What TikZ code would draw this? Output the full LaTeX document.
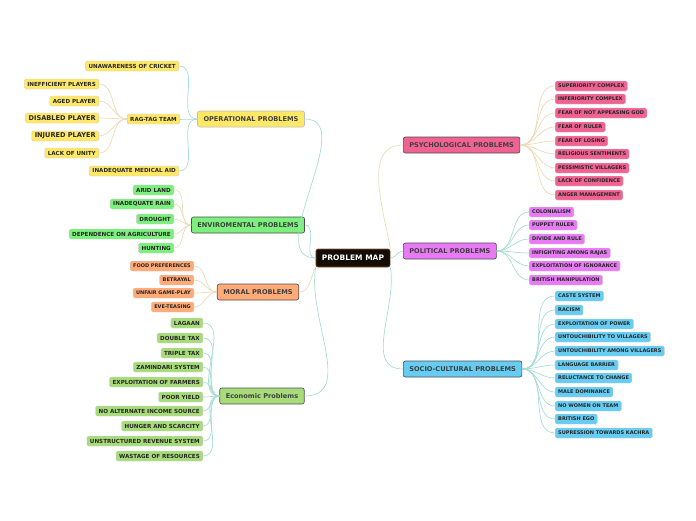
\documentclass[tikz,border=0pt]{standalone}
\usepackage{fontspec}
\setmainfont{DejaVu Sans}
\definecolor{cyel}{HTML}{FFE866}
\definecolor{cenv}{HTML}{7CF07C}
\definecolor{cmor}{HTML}{FFAA77}
\definecolor{ceco}{HTML}{A8DC7A}
\definecolor{cpsy}{HTML}{F06292}
\definecolor{cpol}{HTML}{E87BF5}
\definecolor{csoc}{HTML}{66CCF2}
\definecolor{lteal}{HTML}{A8DDD5}
\definecolor{lbeige}{HTML}{E8DDB8}
\tikzset{
  leaf/.style={rounded corners=1.5pt, inner xsep=3pt, inner ysep=0pt, minimum height=10pt,
    font=\fontsize{5.6}{6}\selectfont\bfseries, text=black!85, draw=white!80!black, line width=0.4pt},
  topic/.style={rounded corners=2pt, minimum height=16pt, inner xsep=6pt,
    font=\fontsize{6.6}{7}\selectfont\bfseries, text=black!75, draw=black!70, line width=0.6pt},
  link/.style={line width=0.7pt}
}
\begin{document}
\begin{tikzpicture}[x=1pt,y=-1pt]
  \useasboundingbox (0,0) rectangle (696,520);
  \node[topic, fill=black!90!brown, text=white, draw=black!30!brown, minimum height=18pt, font=\fontsize{7.5}{8}\selectfont\bfseries] (pm) at (353,258) {PROBLEM MAP};
  % left side
  \node[topic, fill=cyel, draw=white!75!black] (op) at (251,119) {OPERATIONAL PROBLEMS};
  \node[topic, fill=cenv] (env) at (248,225) {ENVIROMENTAL PROBLEMS};
  \node[topic, fill=cmor] (mor) at (258,292) {MORAL PROBLEMS};
  \node[topic, fill=ceco] (eco) at (262,396) {Economic Problems};
  % right side
  \node[topic, fill=cpsy, anchor=west] (psy) at (403,145) {PSYCHOLOGICAL PROBLEMS};
  \node[topic, fill=cpol, anchor=west] (pol) at (403,251) {POLITICAL PROBLEMS};
  \node[topic, fill=csoc, anchor=west] (soc) at (403,369) {SOCIO-CULTURAL PROBLEMS};
  \draw[link, lteal] (pm.west) to[out=180,in=0] (op.east);
  \draw[link, lteal] (pm.west) to[out=180,in=0] (env.east);
  \draw[link, lbeige] (pm.south west) to[out=240,in=0] (mor.east);
  \draw[link, lteal] (pm.south west) to[out=260,in=0] (eco.east);
  \draw[link, lbeige] (pm.north east) to[out=100,in=180] (psy.west);
  \draw[link, lteal] (pm.east) to[out=0,in=180] (pol.west);
  \draw[link, lteal] (pm.south east) to[out=280,in=180] (soc.west);
  % operational
  \node[leaf, fill=cyel, anchor=east] (op1) at (179,66) {UNAWARENESS OF CRICKET};
  \node[leaf, fill=cyel, anchor=east] (rt) at (180,119) {RAG-TAG TEAM};
  \node[leaf, fill=cyel, anchor=east] (op3) at (179,171) {INADEQUATE MEDICAL AID};
  \foreach \n in {op1,rt,op3}
    \draw[link, lteal] (op.west) to[out=180,in=0] (\n.east);
  \foreach \t/\y/\s [count=\i] in {INEFFICIENT PLAYERS/84/5.6, AGED PLAYER/101/5.6,
      DISABLED PLAYER/118/6.6, INJURED PLAYER/136/6.6, LACK OF UNITY/153/5.6} {
    \node[leaf, fill=cyel, anchor=east, font=\fontsize{\s}{7}\selectfont\bfseries] (rt\i) at (99,\y) {\t};
    \draw[link, lbeige] (rt.west) to[out=180,in=0] (rt\i.east);
  }
  % enviromental
  \foreach \t/\y [count=\i] in {ARID LAND/190, INADEQUATE RAIN/204, DROUGHT/219,
      DEPENDENCE ON AGRICULTURE/234, HUNTING/248} {
    \node[leaf, fill=cenv, anchor=east] (env\i) at (174,\y) {\t};
    \draw[link, lbeige] (env.west) to[out=180,in=0] (env\i.east);
  }
  % moral
  \foreach \t/\y [count=\i] in {FOOD PREFERENCES/266, BETRAYAL/280, UNFAIR GAME-PLAY/293, EVE-TEASING/307} {
    \node[leaf, fill=cmor, anchor=east, font=\fontsize{5}{6}\selectfont\bfseries] (mor\i) at (194,\y) {\t};
    \draw[link, lbeige] (mor.west) to[out=180,in=0] (mor\i.east);
  }
  % economic
  \foreach \t/\y [count=\i] in {LAGAAN/323, DOUBLE TAX/338, TRIPLE TAX/353, ZAMINDARI SYSTEM/367,
      EXPLOITATION OF FARMERS/382, POOR YIELD/397, NO ALTERNATE INCOME SOURCE/411,
      HUNGER AND SCARCITY/426, UNSTRUCTURED REVENUE SYSTEM/441, WASTAGE OF RESOURCES/456} {
    \node[leaf, fill=ceco, anchor=east] (eco\i) at (203,\y) {\t};
    \draw[link, lteal] (eco.west) to[out=180,in=0] (eco\i.east);
  }
  % psychological
  \foreach \t/\y [count=\i] in {SUPERIORITY COMPLEX/86, INFERIORITY COMPLEX/99, FEAR OF NOT APPEASING GOD/113,
      FEAR OF RULER/127, FEAR OF LOSING/141, RELIGIOUS SENTIMENTS/154, PESSIMISTIC VILLAGERS/168,
      LACK OF CONFIDENCE/181, ANGER MANAGEMENT/195} {
    \node[leaf, fill=cpsy, anchor=west, font=\fontsize{5}{6}\selectfont\bfseries] (psy\i) at (555,\y) {\t};
    \draw[link, lbeige] (psy.east) to[out=0,in=180] (psy\i.west);
  }
  % political
  \foreach \t/\y [count=\i] in {COLONIALISM/212, PUPPET RULER/225, DIVIDE AND RULE/239,
      INFIGHTING AMONG RAJAS/253, EXPLOITATION OF IGNORANCE/266, BRITISH MANIPULATION/280} {
    \node[leaf, fill=cpol, anchor=west, font=\fontsize{5}{6}\selectfont\bfseries] (pol\i) at (529,\y) {\t};
    \draw[link, lteal] (pol.east) to[out=0,in=180] (pol\i.west);
  }
  % socio-cultural
  \foreach \t/\y [count=\i] in {CASTE SYSTEM/296, RACISM/310, EXPLOITATION OF POWER/324,
      UNTOUCHIBILITY TO VILLAGERS/337, UNTOUCHIBILITY AMONG VILLAGERS/351, LANGUAGE BARRIER/365,
      RELUCTANCE TO CHANGE/378, MALE DOMINANCE/392, NO WOMEN ON TEAM/406, BRITISH EGO/419,
      SUPRESSION TOWARDS KACHRA/433} {
    \node[leaf, fill=csoc, anchor=west, font=\fontsize{5}{6}\selectfont\bfseries] (soc\i) at (555,\y) {\t};
    \draw[link, lteal] (soc.east) to[out=0,in=180] (soc\i.west);
  }
\end{tikzpicture}
\end{document}
